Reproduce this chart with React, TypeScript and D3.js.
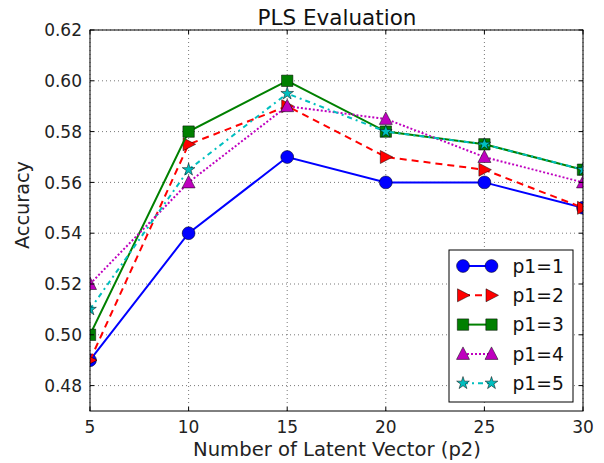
import React, { useRef, useEffect } from "react";
import * as d3 from "d3";

const latent = [5, 10, 15, 20, 25, 30];
const p1_1 = [0.49, 0.54, 0.57, 0.56, 0.56, 0.55];
const p1_2 = [0.49, 0.575, 0.59, 0.57, 0.565, 0.55];
const p1_3 = [0.5, 0.58, 0.6, 0.58, 0.575, 0.565];
const p1_4 = [0.52, 0.56, 0.59, 0.585, 0.57, 0.56];
const p1_5 = [0.51, 0.565, 0.595, 0.58, 0.575, 0.565];
const seriesNames = ["p1=1", "p1=2", "p1=3", "p1=4", "p1=5"];
const yTicks = [0.48, 0.5, 0.52, 0.54, 0.56, 0.58, 0.6, 0.62];

const series = [
  { name: seriesNames[0], values: p1_1, color: "#0000ff", dash: "", marker: "circle" },
  { name: seriesNames[1], values: p1_2, color: "#ff0000", dash: "7,5", marker: "triright" },
  { name: seriesNames[2], values: p1_3, color: "#008000", dash: "", marker: "square" },
  { name: seriesNames[3], values: p1_4, color: "#bf00bf", dash: "2,2", marker: "triup" },
  { name: seriesNames[4], values: p1_5, color: "#00bfbf", dash: "5,4,2,4", marker: "star" },
];

const font = "'DejaVu Sans', sans-serif";

function markerPath(kind: string) {
  switch (kind) {
    case "circle":
      return d3.symbol(d3.symbolCircle, 130)();
    case "square":
      return d3.symbol(d3.symbolSquare, 130)();
    case "triup":
      return "M0,-7L6.5,5.5L-6.5,5.5Z";
    case "triright":
      return "M7,0L-5.5,6.5L-5.5,-6.5Z";
    case "star":
      return d3.symbol(d3.symbolStar, 50)();
  }
  return "";
}

export default function App() {
  const svgRef = useRef<SVGSVGElement>(null);

  useEffect(() => {
    const w = 604;
    const h = 463;
    const m = { left: 90, right: 21, top: 30, bottom: 52 };
    const svg = d3.select(svgRef.current).attr("width", w).attr("height", h);
    svg.selectAll("*").remove();

    const x = d3.scaleLinear().domain([5, 30]).range([m.left, w - m.right]);
    const y = d3.scaleLinear().domain([0.47, 0.62]).range([h - m.bottom, m.top]);

    svg.append("rect").attr("width", w).attr("height", h).attr("fill", "#fff");

    svg
      .append("defs")
      .append("clipPath")
      .attr("id", "plotclip")
      .append("rect")
      .attr("x", m.left)
      .attr("y", m.top)
      .attr("width", w - m.left - m.right)
      .attr("height", h - m.top - m.bottom);

    // grid
    const grid = svg.append("g");
    latent.forEach((v) => {
      grid
        .append("line")
        .attr("x1", x(v))
        .attr("x2", x(v))
        .attr("y1", m.top)
        .attr("y2", h - m.bottom)
        .attr("stroke", "#555")
        .attr("stroke-width", 0.8)
        .attr("stroke-dasharray", "1,3");
    });
    yTicks.forEach((v) => {
      grid
        .append("line")
        .attr("x1", m.left)
        .attr("x2", w - m.right)
        .attr("y1", y(v))
        .attr("y2", y(v))
        .attr("stroke", "#555")
        .attr("stroke-width", 0.8)
        .attr("stroke-dasharray", "1,3");
    });

    // lines
    const plot = svg.append("g").attr("clip-path", "url(#plotclip)");
    const line = d3
      .line<number>()
      .x((d, i) => x(latent[i]))
      .y((d) => y(d));

    series.forEach((s) => {
      plot
        .append("path")
        .attr("d", line(s.values))
        .attr("fill", "none")
        .attr("stroke", s.color)
        .attr("stroke-width", 2)
        .attr("stroke-dasharray", s.dash);
      plot
        .selectAll(null)
        .data(s.values)
        .join("path")
        .attr("d", markerPath(s.marker))
        .attr("transform", (d, i) => `translate(${x(latent[i])},${y(d)})`)
        .attr("fill", s.color)
        .attr("stroke", "#000")
        .attr("stroke-width", 0.5);
    });

    // frame
    svg
      .append("rect")
      .attr("x", m.left)
      .attr("y", m.top)
      .attr("width", w - m.left - m.right)
      .attr("height", h - m.top - m.bottom)
      .attr("fill", "none")
      .attr("stroke", "#000")
      .attr("stroke-width", 1);

    // ticks (inward, both sides)
    const ticks = svg.append("g").attr("stroke", "#000").attr("stroke-width", 1);
    latent.forEach((v) => {
      ticks.append("line").attr("x1", x(v)).attr("x2", x(v)).attr("y1", h - m.bottom).attr("y2", h - m.bottom - 4);
      ticks.append("line").attr("x1", x(v)).attr("x2", x(v)).attr("y1", m.top).attr("y2", m.top + 4);
    });
    yTicks.forEach((v) => {
      ticks.append("line").attr("x1", m.left).attr("x2", m.left + 4).attr("y1", y(v)).attr("y2", y(v));
      ticks.append("line").attr("x1", w - m.right).attr("x2", w - m.right - 4).attr("y1", y(v)).attr("y2", y(v));
    });

    // tick labels
    latent.forEach((v) => {
      svg
        .append("text")
        .attr("x", x(v))
        .attr("y", h - m.bottom + 22)
        .attr("text-anchor", "middle")
        .attr("font-family", font)
        .attr("font-size", 17)
        .attr("fill", "#222")
        .text(v);
    });
    yTicks.forEach((v) => {
      svg
        .append("text")
        .attr("x", m.left - 8)
        .attr("y", y(v))
        .attr("dy", "0.36em")
        .attr("text-anchor", "end")
        .attr("font-family", font)
        .attr("font-size", 17)
        .attr("fill", "#222")
        .text(v.toFixed(2));
    });

    // titles
    svg
      .append("text")
      .attr("x", 337)
      .attr("y", 25)
      .attr("text-anchor", "middle")
      .attr("font-family", font)
      .attr("font-size", 21.5)
      .attr("fill", "#111")
      .text("PLS Evaluation");
    svg
      .append("text")
      .attr("x", 337)
      .attr("y", 456)
      .attr("text-anchor", "middle")
      .attr("font-family", font)
      .attr("font-size", 19.6)
      .attr("fill", "#222")
      .text("Number of Latent Vector (p2)");
    svg
      .append("text")
      .attr("transform", `translate(29,205) rotate(-90)`)
      .attr("text-anchor", "middle")
      .attr("font-family", font)
      .attr("font-size", 19.3)
      .attr("fill", "#222")
      .text("Accuracy");

    // legend
    const lg = svg.append("g").attr("transform", "translate(449,250)");
    lg.append("rect")
      .attr("width", 124)
      .attr("height", 152)
      .attr("fill", "#fff")
      .attr("stroke", "#000")
      .attr("stroke-width", 1);
    series.forEach((s, i) => {
      const cy = 16 + i * 29.3;
      lg.append("line")
        .attr("x1", 14)
        .attr("x2", 42.5)
        .attr("y1", cy)
        .attr("y2", cy)
        .attr("stroke", s.color)
        .attr("stroke-width", 2)
        .attr("stroke-dasharray", s.dash);
      [14, 42.5].forEach((mx) => {
        lg.append("path")
          .attr("d", markerPath(s.marker))
          .attr("transform", `translate(${mx},${cy})`)
          .attr("fill", s.color)
          .attr("stroke", "#000")
          .attr("stroke-width", 0.5);
      });
      lg.append("text")
        .attr("x", 63.5)
        .attr("y", cy)
        .attr("dy", "0.36em")
        .attr("font-family", font)
        .attr("font-size", 18.7)
        .attr("fill", "#111")
        .text(s.name);
    });
  }, []);

  return (
    <div>
      <svg ref={svgRef} style={{ display: "block", marginTop: -8, marginLeft: -8 }}></svg>
    </div>
  );
}
